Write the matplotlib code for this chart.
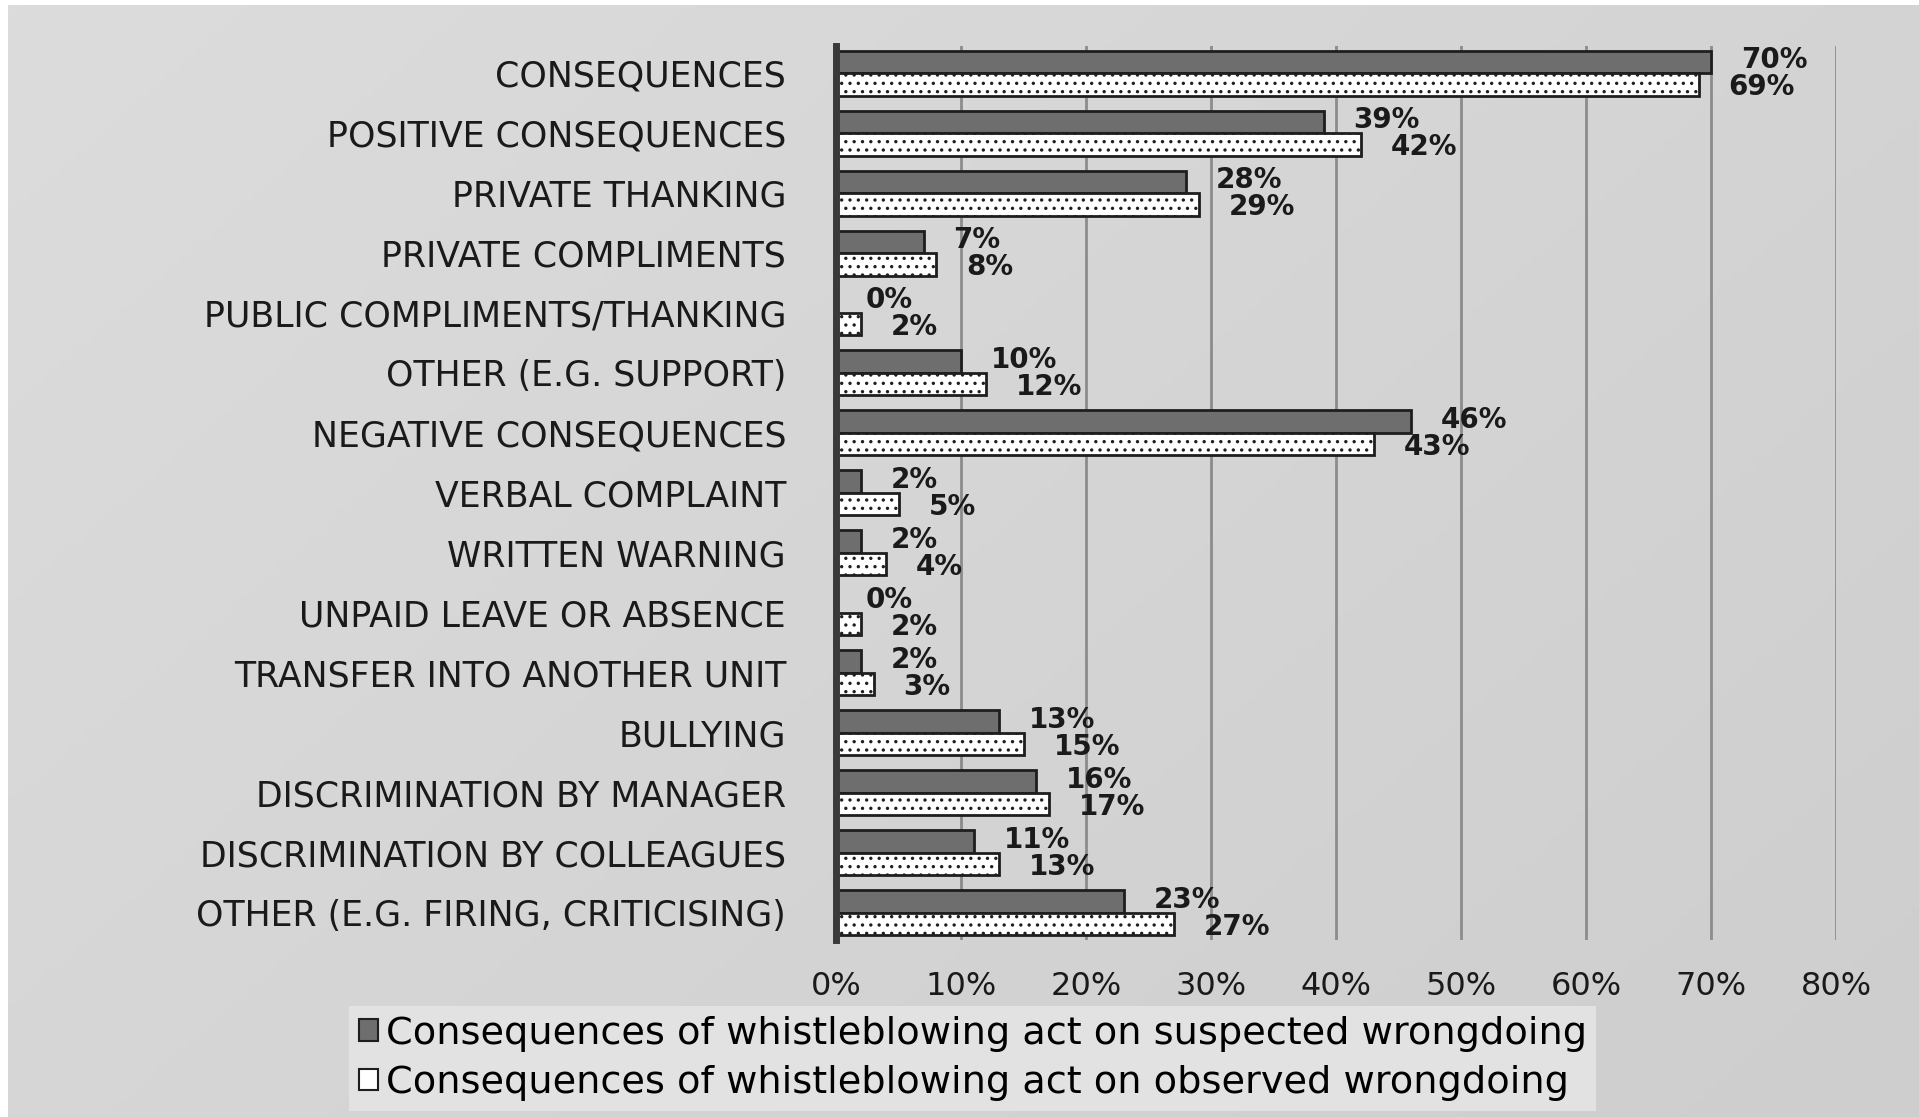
import numpy as np
import matplotlib
matplotlib.use('Agg')
import matplotlib.pyplot as plt
from matplotlib.patches import Patch

categories = ['CONSEQUENCES', 'POSITIVE CONSEQUENCES', 'PRIVATE THANKING',
              'PRIVATE COMPLIMENTS', 'PUBLIC COMPLIMENTS/THANKING',
              'OTHER (E.G. SUPPORT)', 'NEGATIVE CONSEQUENCES', 'VERBAL COMPLAINT',
              'WRITTEN WARNING', 'UNPAID LEAVE OR ABSENCE',
              'TRANSFER INTO ANOTHER UNIT', 'BULLYING', 'DISCRIMINATION BY MANAGER',
              'DISCRIMINATION BY COLLEAGUES', 'OTHER (E.G. FIRING, CRITICISING)']
suspected = [70, 39, 28, 7, 0, 10, 46, 2, 2, 0, 2, 13, 16, 11, 23]
observed = [69, 42, 29, 8, 2, 12, 43, 5, 4, 2, 3, 15, 17, 13, 27]
xticks = [0, 10, 20, 30, 40, 50, 60, 70, 80]
legend_labels = ['Consequences of whistleblowing act on suspected wrongdoing',
                 'Consequences of whistleblowing act on observed wrongdoing']

plt.rcParams['font.family'] = 'DejaVu Sans'
plt.rcParams['hatch.color'] = '#8a8a8a'
plt.rcParams['hatch.linewidth'] = 1.2

fig = plt.figure(figsize=(19.19, 11.17), dpi=100)
fig.patch.set_facecolor('white')

# grey gradient panel behind everything
bg = fig.add_axes([0.0042, 0.0, 0.9958, 0.9955])
grad = np.linspace(0, 1, 256)
gx, gy = np.meshgrid(grad, grad)
bg.imshow(0.6 * gx + 0.4 * gy, cmap=plt.cm.colors.LinearSegmentedColormap.from_list(
    'g', ['#dcdcdc', '#cecece']), aspect='auto', extent=[0, 1, 0, 1], origin='upper')
bg.axis('off')

ax = fig.add_axes([0.4357, 0.1585, 0.9568 - 0.4357, 0.9588 - 0.1585])
ax.set_facecolor('none')

y = np.arange(len(categories))
h = 0.37
ax.barh(y - 0.19, suspected, height=h, color='#6e6e6e', edgecolor='#1e1e1e',
        linewidth=2, zorder=3)
ax.barh(y + 0.19, observed, height=h, color='white', edgecolor='#1e1e1e',
        linewidth=2, hatch='..', zorder=3)

for i in range(len(categories)):
    ax.text(suspected[i] + 2.4, y[i] - 0.22, str(suspected[i]) + '%', va='center',
            ha='left', fontsize=20, fontweight='bold', color='#1a1a1a', zorder=4)
    ax.text(observed[i] + 2.4, y[i] + 0.23, str(observed[i]) + '%', va='center',
            ha='left', fontsize=20, fontweight='bold', color='#1a1a1a', zorder=4)

ax.set_xlim(0, 80)
ax.set_ylim(14.45, -0.45)
ax.set_yticks(y)
ax.set_yticklabels(categories, fontsize=25, color='#1a1a1a')
ax.set_xticks(xticks)
ax.set_xticklabels([str(t) + '%' for t in xticks], fontsize=23, color='#1a1a1a')
ax.tick_params(axis='y', length=0, pad=36)
ax.tick_params(axis='x', length=0, pad=22)
ax.grid(axis='x', color='#8c8c8c', linewidth=2, zorder=0)
for s in ['top', 'right', 'bottom']:
    ax.spines[s].set_visible(False)
ax.spines['left'].set_color('#3a3a3a')
ax.spines['left'].set_linewidth(5)
ax.spines['left'].set_zorder(5)

handles = [Patch(facecolor='#6e6e6e', edgecolor='#1e1e1e', linewidth=1.5),
           Patch(facecolor='white', edgecolor='#1e1e1e', linewidth=1.5)]
leg = fig.legend(handles, legend_labels, loc='center', bbox_to_anchor=(0.507, 0.0525),
                 fontsize=27.5, frameon=True, facecolor='#e2e2e2', edgecolor='none',
                 framealpha=1, fancybox=False, handlelength=0.5, handleheight=0.5,
                 handletextpad=0.2, labelspacing=0.35, borderpad=0.25)

plt.savefig('out.png', dpi=100)
